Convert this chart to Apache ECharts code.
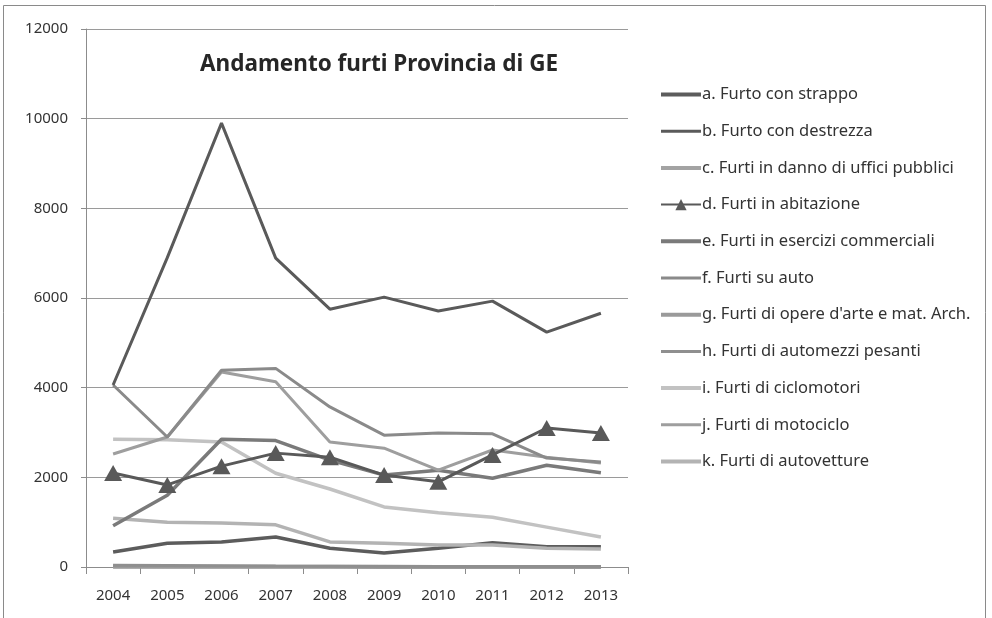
<!DOCTYPE html>
<html>
<head>
<meta charset="utf-8">
<script src="https://cdn.jsdelivr.net/npm/echarts@6/dist/echarts.min.js"></script>
<style>
  html, body { margin: 0; padding: 0; background: #fff; }
  #chart { width: 992px; height: 618px; }
</style>
</head>
<body>
<div id="chart"></div>
<script>
  const years = ['2004', '2005', '2006', '2007', '2008', '2009', '2010', '2011', '2012', '2013']

  const strappo = [335, 530, 560, 670, 420, 310, 420, 540, 450, 450]
  const destrezza = [4060, 6900, 9900, 6890, 5750, 6020, 5710, 5930, 5240, 5660]
  const ufficiPubblici = [10, 8, 8, 6, 5, 5, 5, 5, 4, 4]
  const abitazione = [2095, 1830, 2250, 2540, 2450, 2050, 1900, 2500, 3100, 2990]
  const eserciziCommerciali = [920, 1600, 2850, 2820, 2385, 2050, 2160, 1980, 2270, 2100]
  const suAuto = [4060, 2900, 4390, 4430, 3570, 2940, 2990, 2970, 2430, 2340]
  const opereArte = [4, 4, 3, 3, 3, 2, 2, 2, 2, 2]
  const automezziPesanti = [40, 35, 30, 22, 18, 15, 12, 10, 10, 10]
  const ciclomotori = [2850, 2840, 2790, 2090, 1740, 1340, 1210, 1110, 890, 670]
  const motociclo = [2520, 2900, 4350, 4130, 2790, 2650, 2160, 2610, 2450, 2320]
  const autovetture = [1090, 1000, 980, 940, 560, 530, 490, 490, 420, 400]

  // spessore della linea nella legenda
  const THICK = 'path://M0 0H40V4H0Z'
  const THIN = 'path://M0 0H40V3H0Z'

  const legendItems = [
    { name: 'a. Furto con strappo', icon: THICK },
    { name: 'b. Furto con destrezza', icon: THIN },
    { name: 'c. Furti in danno di uffici pubblici', icon: THICK },
    { name: 'd. Furti in abitazione' },
    { name: 'e. Furti in esercizi commerciali', icon: THICK },
    { name: 'f. Furti su auto', icon: THIN },
    { name: "g. Furti di opere d'arte e mat. Arch.", icon: THICK },
    { name: 'h. Furti di automezzi pesanti', icon: THIN },
    { name: 'i. Furti di ciclomotori', icon: THICK },
    { name: 'j. Furti di motociclo', icon: THIN },
    { name: 'k. Furti di autovetture', icon: THICK }
  ]

  const chart = echarts.init(document.getElementById('chart'))

  function serie(name, data, color, width, extra) {
    return Object.assign({
      name: name,
      type: 'line',
      data: data,
      symbol: 'none',
      itemStyle: { color: color },
      lineStyle: { width: width, color: color },
      emphasis: { disabled: true }
    }, extra || {})
  }

  chart.setOption({
    animation: false,
    textStyle: { fontFamily: 'Noto Sans' },
    title: {
      text: 'Andamento furti Provincia di GE',
      left: 195,
      top: 48,
      textStyle: { fontSize: 22.5, fontWeight: 'bold', color: '#262626', fontFamily: 'Noto Sans' }
    },
    graphic: [{
      type: 'rect',
      shape: { x: 3.5, y: 5.5, width: 982, height: 640 },
      style: { fill: 'none', stroke: '#8a8a8a', lineWidth: 1 },
      silent: true
    }],
    legend: {
      orient: 'vertical',
      left: 655,
      top: 81,
      itemWidth: 40,
      itemHeight: 14,
      itemGap: 19.7,
      textStyle: { fontSize: 16.5, color: '#333', padding: [0, 0, 0, -4] },
      data: legendItems
    },
    grid: { left: 86, right: 364, top: 29, bottom: 51 },
    xAxis: {
      type: 'category',
      data: years,
      boundaryGap: true,
      axisLine: { lineStyle: { color: '#8c8c8c', width: 1 } },
      axisTick: { show: true, length: 7, lineStyle: { color: '#8c8c8c' } },
      axisLabel: { fontSize: 15, color: '#333', margin: 21 }
    },
    yAxis: {
      type: 'value',
      min: 0,
      max: 12000,
      interval: 2000,
      axisLine: { show: true, lineStyle: { color: '#8c8c8c', width: 1 } },
      axisTick: { show: true, length: 5, lineStyle: { color: '#8c8c8c' } },
      axisLabel: { fontSize: 15, color: '#333', margin: 18, formatter: v => String(v) },
      splitLine: { lineStyle: { color: '#9a9a9a', width: 1 } }
    },
    series: [
      serie('c. Furti in danno di uffici pubblici', ufficiPubblici, '#a3a3a3', 3.5),
      serie("g. Furti di opere d'arte e mat. Arch.", opereArte, '#9a9a9a', 4),
      serie('h. Furti di automezzi pesanti', automezziPesanti, '#8f8f8f', 3),
      serie('a. Furto con strappo', strappo, '#5c5c5c', 3.5),
      serie('k. Furti di autovetture', autovetture, '#b3b3b3', 3.5),
      serie('i. Furti di ciclomotori', ciclomotori, '#c2c2c2', 3.5),
      serie('e. Furti in esercizi commerciali', eserciziCommerciali, '#7a7a7a', 3.5),
      serie('j. Furti di motociclo', motociclo, '#9e9e9e', 3),
      serie('f. Furti su auto', suAuto, '#8a8a8a', 3),
      serie('d. Furti in abitazione', abitazione, '#595959', 3, {
        symbol: 'triangle', symbolSize: [18, 16], showSymbol: true
      }),
      serie('b. Furto con destrezza', destrezza, '#5a5a5a', 3)
    ]
  })
</script>
</body>
</html>
